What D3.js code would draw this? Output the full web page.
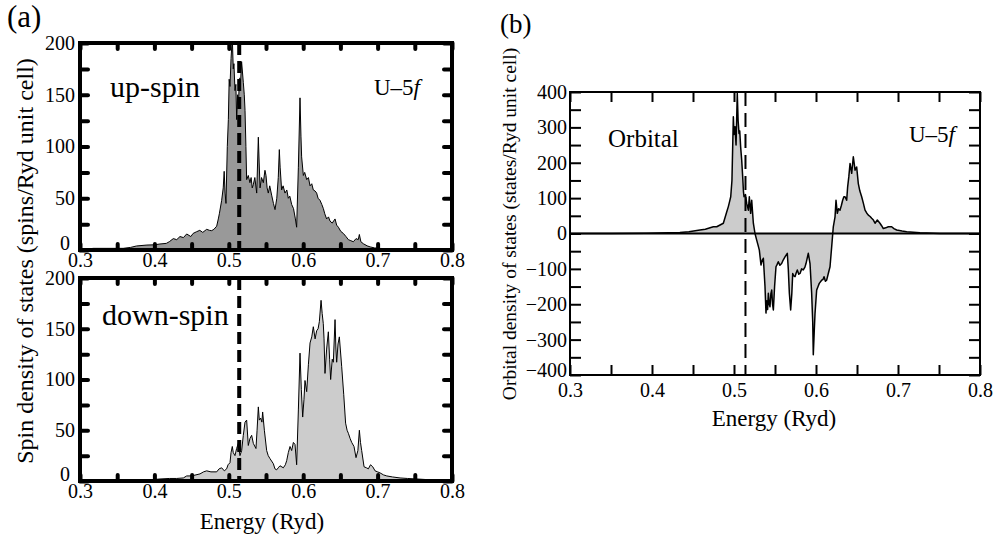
<!DOCTYPE html>
<html>
<head>
<meta charset="utf-8">
<script src="https://cdn.jsdelivr.net/npm/d3@7"></script>
<style>
  body { margin: 0; background: #fff; }
  svg text { fill: #000; font-family: "Liberation Serif", "Times New Roman", Times, serif; }
</style>
</head>
<body>
<svg id="chart" width="994" height="542"></svg>
<script>
// energy grid ticks (Ryd)
const energyTicks = [0.3, 0.35, 0.4, 0.45, 0.5, 0.55, 0.6, 0.65, 0.7, 0.75, 0.8];
const spinTicks = [0, 25, 50, 75, 100, 125, 150, 175, 200];
const orbitalTicks = [-400, -350, -300, -250, -200, -150, -100, -50, 0, 50, 100, 150, 200, 250, 300, 350, 400];
const eFermi = 0.514;

// up-spin U-5f DOS, [energy, spins/Ryd]
const upSpin = [[0.300,0],[0.310,1],[0.318,1.6],[0.336,1.6],[0.358,1.6],[0.368,2.5],[0.376,3.9],[0.390,4.8],[0.400,5],
  [0.4075,5.8],[0.416,6.4],[0.420,8],[0.4254,11],[0.430,10],[0.4344,13],[0.439,12],[0.4434,15.5],[0.449,13],[0.452,16],
  [0.4568,17.7],[0.461,19],[0.465,17],[0.4703,20],[0.474,19],[0.477,18.7],[0.480,20],[0.4837,23],[0.4859,30],[0.4873,35],
  [0.4904,48],[0.4925,60],[0.4938,76],[0.4950,55],[0.4962,45],[0.4980,100],[0.4994,126],[0.5005,165],[0.5016,158],
  [0.5030,185],[0.5047,205],[0.5060,175],[0.5069,180],[0.5083,154],[0.5095,160],[0.5106,126],[0.5118,150],[0.5128,140],
  [0.5145,166],[0.5160,165],[0.5172,182],[0.5195,162],[0.5208,150],[0.5218,135],[0.5230,100],[0.5240,68],[0.5262,72],
  [0.5284,65],[0.5300,70],[0.5315,60],[0.5329,63],[0.5350,70],[0.5375,55],[0.5397,109],[0.5408,85],[0.5420,60],[0.5440,70],
  [0.5464,65],[0.5486,77],[0.5500,72],[0.5515,60],[0.5531,55],[0.5550,62],[0.5576,53],[0.5600,45],[0.5621,39],[0.5645,50],
  [0.5665,70],[0.5679,97],[0.5690,80],[0.5710,58],[0.5730,62],[0.5755,55],[0.5780,58],[0.5800,50],[0.5820,52],[0.5845,44],
  [0.5870,40],[0.5895,30],[0.5912,22],[0.5935,80],[0.5957,147],[0.5970,110],[0.5979,90],[0.6002,72],[0.6020,75],[0.6047,68],
  [0.6070,70],[0.6092,62],[0.6115,64],[0.6136,58],[0.6160,57],[0.6181,55],[0.6200,50],[0.6226,48],[0.6250,44],[0.6271,40],
  [0.6290,35],[0.6315,30],[0.6340,32],[0.6360,28],[0.6390,26],[0.6428,30],[0.6450,24],[0.6473,22],[0.6505,18],[0.6540,16],
  [0.6575,13],[0.6607,10],[0.6640,9],[0.6674,8],[0.6710,11],[0.6740,10],[0.6755,15],[0.6775,8],[0.6810,6],[0.6860,4],
  [0.6900,3],[0.6960,2],[0.7034,1.5],[0.7303,1],[0.7600,0.5],[0.8000,0]];

// down-spin U-5f DOS
const downSpin = [[0.300,0],[0.340,0],[0.3806,0],[0.392,1],[0.4075,2],[0.420,2.5],[0.430,2.5],[0.4389,3],[0.4434,5],[0.450,5],
  [0.4613,7],[0.466,9],[0.4703,10],[0.476,9],[0.4837,9],[0.4870,12],[0.4904,13],[0.4940,10],[0.4971,12],[0.4990,16],[0.5016,18],
  [0.5030,28],[0.5047,34],[0.5060,28],[0.5083,25],[0.5105,32],[0.5128,37],[0.5150,25],[0.5173,30],[0.5195,45],[0.5218,58],
  [0.5240,60],[0.5262,35],[0.5285,42],[0.5307,45],[0.5330,37],[0.5365,32],[0.5380,50],[0.5397,73],[0.5410,60],[0.5428,62],
  [0.5445,58],[0.5455,68],[0.5478,50],[0.5509,30],[0.5530,25],[0.5554,22],[0.5599,17],[0.5620,12],[0.5643,11],[0.5665,13],
  [0.5688,15],[0.5733,13],[0.5760,16],[0.5778,20],[0.5800,28],[0.5823,34],[0.5845,30],[0.5868,38],[0.5890,36],[0.5912,16],
  [0.5935,70],[0.5957,126],[0.5975,90],[0.5993,63],[0.6010,80],[0.6024,99],[0.6047,88],[0.6070,115],[0.6092,136],[0.6115,142],
  [0.6136,152],[0.6160,140],[0.6181,148],[0.6200,150],[0.6217,157],[0.6240,178],[0.6255,165],[0.6270,155],[0.6280,140],
  [0.6293,106],[0.6315,130],[0.6338,147],[0.6355,120],[0.6369,100],[0.6390,120],[0.6405,117],[0.6428,159],[0.6440,130],
  [0.6450,117],[0.6468,135],[0.6486,142],[0.6517,113],[0.6545,85],[0.6570,57],[0.6590,50],[0.6607,47],[0.6630,42],[0.6652,38],
  [0.6683,34],[0.6710,23],[0.6735,30],[0.6755,50],[0.6770,38],[0.6786,30],[0.6818,14],[0.6850,13],[0.6876,12],[0.6905,16],
  [0.6935,14],[0.6966,10],[0.7000,9],[0.7033,8],[0.7080,6],[0.7123,5],[0.7200,4],[0.7302,3],[0.7400,2.5],[0.7526,2],
  [0.7750,1],[0.8000,1]];

// orbital U-5f DOS (states/Ryd)
const orbital = [[0.300,0],[0.350,0],[0.3935,1],[0.420,2],[0.434,3],[0.445,5],[0.4585,10],[0.465,12],[0.4748,19],[0.4789,19],
  [0.4830,24],[0.4870,29],[0.4910,60],[0.4931,76],[0.4946,90],[0.4960,104],[0.4975,150],[0.4992,330],[0.5000,280],[0.5012,302],
  [0.5025,250],[0.5040,396],[0.5050,320],[0.5061,283],[0.5070,290],[0.5081,245],[0.5094,207],[0.5106,160],[0.5115,120],
  [0.5122,104],[0.5140,110],[0.5155,85],[0.5175,66],[0.5187,104],[0.5203,57],[0.5216,94],[0.5236,29],[0.5256,0],[0.5276,-18],
  [0.5290,-30],[0.5309,-47],[0.5320,-70],[0.5329,-89],[0.5345,-75],[0.5358,-70],[0.5378,-150],[0.5390,-225],[0.5400,-190],
  [0.5410,-215],[0.5419,-169],[0.5430,-200],[0.5439,-207],[0.5450,-170],[0.5460,-160],[0.5470,-200],[0.5480,-216],[0.5495,-150],
  [0.5512,-94],[0.5525,-88],[0.5540,-80],[0.5560,-90],[0.5581,-85],[0.5600,-75],[0.5622,-66],[0.5650,-56],[0.5662,-100],
  [0.5675,-169],[0.5691,-216],[0.5705,-170],[0.5716,-113],[0.5730,-120],[0.5744,-122],[0.5760,-110],[0.5772,-103],[0.5790,-115],
  [0.5805,-113],[0.5825,-100],[0.5845,-103],[0.5865,-95],[0.5878,-85],[0.5906,-56],[0.5927,-85],[0.5947,-169],[0.5960,-250],
  [0.5967,-343],[0.5978,-280],[0.5988,-226],[0.6008,-160],[0.6025,-150],[0.6040,-141],[0.6069,-132],[0.6085,-130],[0.6098,-122],
  [0.6115,-135],[0.6130,-132],[0.6150,-113],[0.6171,-94],[0.6191,-38],[0.6211,19],[0.6232,47],[0.6244,94],[0.6260,57],
  [0.6275,70],[0.6293,66],[0.6310,80],[0.6325,94],[0.6340,104],[0.6354,104],[0.6374,94],[0.6386,132],[0.6400,160],[0.6415,198],
  [0.6435,170],[0.6455,217],[0.6465,200],[0.6476,179],[0.6496,188],[0.6516,141],[0.6535,120],[0.6557,104],[0.6578,85],
  [0.6598,66],[0.6618,58],[0.6638,52],[0.6660,48],[0.6679,43],[0.6700,38],[0.6720,29],[0.6748,38],[0.6780,29],[0.6800,22],
  [0.6821,14],[0.6850,16],[0.6882,19],[0.6923,19],[0.6950,14],[0.6984,10],[0.7050,7],[0.7106,5],[0.7268,2],[0.7510,0],[0.8000,0]];

const svg = d3.select("#chart");
svg.append("rect").attr("width", 994).attr("height", 542).attr("fill", "#fff");

const isTenth = d => Math.abs(d * 10 - Math.round(d * 10)) < 1e-6;
const fmtY = d => d < 0 ? "\u2212" + Math.abs(d) : String(d);

function drawPanel(p) {
  const x = d3.scaleLinear().domain([0.3, 0.8]).range([p.left, p.right]);
  const y = d3.scaleLinear().domain(p.yDomain).range([p.bottom, p.top]);
  const g = svg.append("g");

  g.append("clipPath").attr("id", "clip-" + p.id)
    .append("rect")
    .attr("x", p.left).attr("y", p.top)
    .attr("width", p.right - p.left).attr("height", p.bottom - p.top);

  const area = d3.area().x(d => x(d[0])).y0(y(0)).y1(d => y(d[1]));
  const line = d3.line().x(d => x(d[0])).y(d => y(d[1]));

  g.append("path").datum(p.data)
    .attr("clip-path", "url(#clip-" + p.id + ")")
    .attr("d", area)
    .attr("fill", p.fill);
  g.append("path").datum(p.data)
    .attr("clip-path", "url(#clip-" + p.id + ")")
    .attr("d", line)
    .attr("fill", "none")
    .attr("stroke", "#000")
    .attr("stroke-width", p.lineWidth)
    .attr("stroke-linejoin", "round");

  if (p.zeroLine) {
    g.append("line")
      .attr("x1", p.left).attr("x2", p.right)
      .attr("y1", y(0)).attr("y2", y(0))
      .attr("stroke", "#000").attr("stroke-width", p.frameWidth);
  }

  // Fermi level
  g.append("line")
    .attr("x1", x(eFermi)).attr("x2", x(eFermi))
    .attr("y1", p.top).attr("y2", p.bottom)
    .attr("stroke", "#000")
    .attr("stroke-width", p.dashWidth)
    .attr("stroke-dasharray", p.dash);

  const styleAxis = sel => {
    sel.select(".domain").remove();
    sel.attr("font-family", null).attr("font-size", null);
    sel.selectAll("text").style("font-size", p.tickFont + "px");
    sel.selectAll("line").attr("stroke-width", p.tickWidth).attr("stroke-linecap", p.cap);
  };

  g.append("g").attr("transform", "translate(0," + p.bottom + ")")
    .call(d3.axisBottom(x).tickValues(energyTicks).tickSize(-p.tickX).tickPadding(p.padX)
      .tickFormat(d => isTenth(d) ? d.toFixed(1) : ""))
    .call(styleAxis);
  g.append("g").attr("transform", "translate(0," + p.top + ")")
    .call(d3.axisTop(x).tickValues(energyTicks).tickSize(-p.tickX).tickFormat(""))
    .call(styleAxis);
  const yAxis = g.append("g").attr("transform", "translate(" + p.left + ",0)")
    .call(d3.axisLeft(y).tickValues(p.yTicks).tickSize(-p.tickY).tickPadding(p.padY)
      .tickFormat(d => d % p.yLabelStep === 0 ? fmtY(d) : ""))
    .call(styleAxis);
  // nudge the lowest label up and left so it clears the first energy label
  yAxis.selectAll("text").filter(d => d === p.yDomain[0])
    .attr("dy", p.lowDy).attr("x", -p.lowPad);
  g.append("g").attr("transform", "translate(" + p.right + ",0)")
    .call(d3.axisRight(y).tickValues(p.yTicks).tickSize(-p.tickY).tickFormat(""))
    .call(styleAxis);

  g.append("rect")
    .attr("x", p.left).attr("y", p.top)
    .attr("width", p.right - p.left).attr("height", p.bottom - p.top)
    .attr("fill", "none").attr("stroke", "#000").attr("stroke-width", p.frameWidth);
}

const spinStyle = {
  yDomain: [0, 200], yTicks: spinTicks, yLabelStep: 50,
  left: 80, right: 452, lineWidth: 1, frameWidth: 4, tickWidth: 4, cap: "round",
  tickX: 6, tickY: 8, padX: 3, padY: 5, tickFont: 20, lowDy: "-0.02em", lowPad: 10,
  dashWidth: 4, dash: "12,6"
};

drawPanel(Object.assign({}, spinStyle, { id: "up", top: 43, bottom: 250, data: upSpin, fill: "#999999" }));
drawPanel(Object.assign({}, spinStyle, { id: "down", top: 278, bottom: 481, data: downSpin, fill: "#cccccc" }));
drawPanel({
  id: "orb", yDomain: [-400, 400], yTicks: orbitalTicks, yLabelStep: 100,
  left: 570, right: 980, top: 92, bottom: 375, data: orbital, fill: "#cccccc",
  lineWidth: 1.5, frameWidth: 2, tickWidth: 2, cap: "butt", zeroLine: true,
  tickX: 10, tickY: 11, padX: 8, padY: 3, tickFont: 20, lowDy: "0.05em", lowPad: 3,
  dashWidth: 2, dash: "14,7"
});

// labels
const label = (txt, x, y, size, anchor) => svg.append("text")
  .attr("x", x).attr("y", y).style("font-size", size + "px")
  .attr("text-anchor", anchor || "start").text(txt);

label("(a)", 7, 27, 31);
label("(b)", 500, 33, 27);
label("up-spin", 110, 97, 30);
label("down-spin", 102, 325, 30);
label("Orbital", 608, 147, 25);

const u5f = (x, y) => {
  const t = label("U\u20135", x, y, 23, "end");
  t.append("tspan").style("font-style", "italic").text("f");
};
u5f(420, 95);
u5f(955, 142);

label("Energy (Ryd)", 262, 529, 23, "middle");
label("Energy (Ryd)", 774, 426, 23, "middle");

svg.append("text")
  .attr("transform", "translate(33,261) rotate(-90)")
  .attr("text-anchor", "middle").style("font-size", "24px")
  .text("Spin density of states (spins/Ryd unit cell)");
svg.append("text")
  .attr("transform", "translate(516,224) rotate(-90)")
  .attr("text-anchor", "middle").style("font-size", "19.5px")
  .text("Orbital density of states (states/Ryd unit cell)");
</script>
</body>
</html>
